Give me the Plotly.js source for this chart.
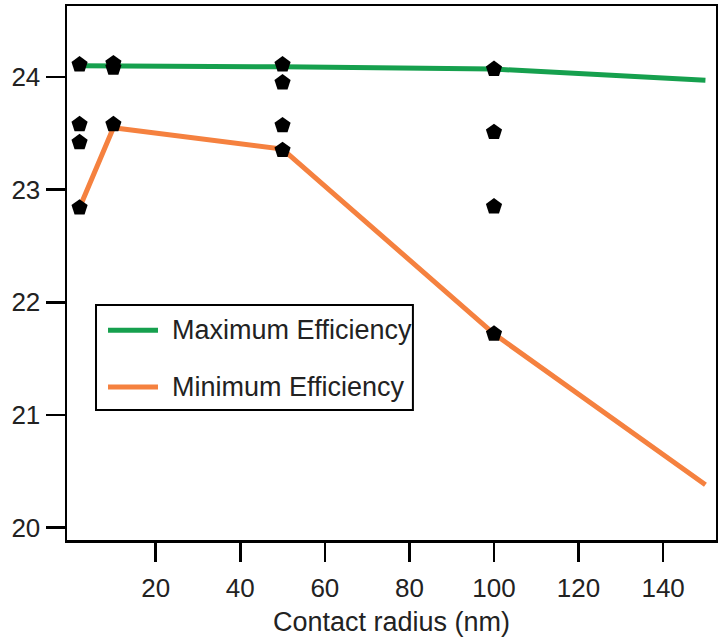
<!DOCTYPE html>
<html>
<head>
<meta charset="utf-8">
<script src="https://cdn.plot.ly/plotly-3.0.1.min.js"></script>
<style>html,body{margin:0;padding:0;background:#fff;}#chart{width:718px;height:637px;}</style>
</head>
<body>
<div id="chart"></div>
<script>
// Scatter of individual efficiencies (pentagon markers)
const pointsX = [2, 2, 2, 2, 10, 10, 10, 50, 50, 50, 50, 100, 100, 100, 100];
const pointsY = [24.11, 23.58, 23.42, 22.84, 24.12, 24.08, 23.58, 24.11, 23.95, 23.57, 23.35, 24.07, 23.51, 22.85, 21.72];

// Maximum efficiency curve
const maxX = [2, 10, 50, 100, 150];
const maxY = [24.10, 24.10, 24.09, 24.07, 23.97];

// Minimum efficiency curve
const minX = [2, 10, 50, 100, 150];
const minY = [22.84, 23.55, 23.36, 21.72, 20.38];

const seriesNames = ['Maximum Efficiency', 'Minimum Efficiency'];
const seriesColors = ['#16a04e', '#f5813f'];

const xTicks = [20, 40, 60, 80, 100, 120, 140];
const yTicks = [20, 21, 22, 23, 24];

const FONT = 'Liberation Sans, Arial, Helvetica, sans-serif';

const traces = [
  {x: maxX, y: maxY, mode: 'lines', name: seriesNames[0], showlegend: false,
   line: {color: seriesColors[0], width: 5}},
  {x: minX, y: minY, mode: 'lines', name: seriesNames[1], showlegend: false,
   line: {color: seriesColors[1], width: 5}},
  {x: pointsX, y: pointsY, mode: 'markers', showlegend: false,
   marker: {symbol: 'pentagon', size: 17, color: '#000'}}
];

const axisCommon = {
  showgrid: false, zeroline: false, showline: true, mirror: true,
  linecolor: '#000', linewidth: 2.5, ticks: 'outside', ticklen: 19,
  tickwidth: 2.5, tickcolor: '#000',
  tickfont: {family: FONT, size: 26, color: '#222'}
};

// Manual legend (box, line samples, labels) in paper coordinates
const legBox = {x0: 0.0447, x1: 0.533, y0: 0.2434, y1: 0.440};
const legRowsY = [0.393, 0.2865];
const legLineX = [0.0632, 0.1402];
const legTextX = 0.1587;

const shapes = [
  {type: 'rect', xref: 'paper', yref: 'paper', x0: legBox.x0, x1: legBox.x1, y0: legBox.y0, y1: legBox.y1,
   line: {color: '#000', width: 2}, fillcolor: '#fff', layer: 'above'}
];
const annotations = [];
seriesNames.forEach((nm, i) => {
  shapes.push({type: 'line', xref: 'paper', yref: 'paper', x0: legLineX[0], x1: legLineX[1],
    y0: legRowsY[i], y1: legRowsY[i], line: {color: seriesColors[i], width: 5}, layer: 'above'});
  annotations.push({xref: 'paper', yref: 'paper', x: legTextX, y: legRowsY[i], xanchor: 'left', yanchor: 'middle',
    text: nm, showarrow: false, font: {family: FONT, size: 27, color: '#222'}});
});

const layout = {
  width: 718, height: 637,
  margin: {l: 67, r: 2, t: 6, b: 97},
  paper_bgcolor: '#fff', plot_bgcolor: '#fff',
  font: {family: FONT, color: '#222'},
  xaxis: Object.assign({}, axisCommon, {
    range: [-0.97, 152.5], tickvals: xTicks, ticktext: xTicks.map(String),
    ticklabelstandoff: 4,
    title: {text: 'Contact radius (nm)', font: {family: FONT, size: 27, color: '#222'}, standoff: 14}
  }),
  yaxis: Object.assign({}, axisCommon, {
    range: [19.89, 24.63], tickvals: yTicks, ticktext: yTicks.map(String)
  }),
  showlegend: false,
  shapes: shapes,
  annotations: annotations
};

Plotly.newPlot('chart', traces, layout, {staticPlot: true, displayModeBar: false});
</script>
</body>
</html>
